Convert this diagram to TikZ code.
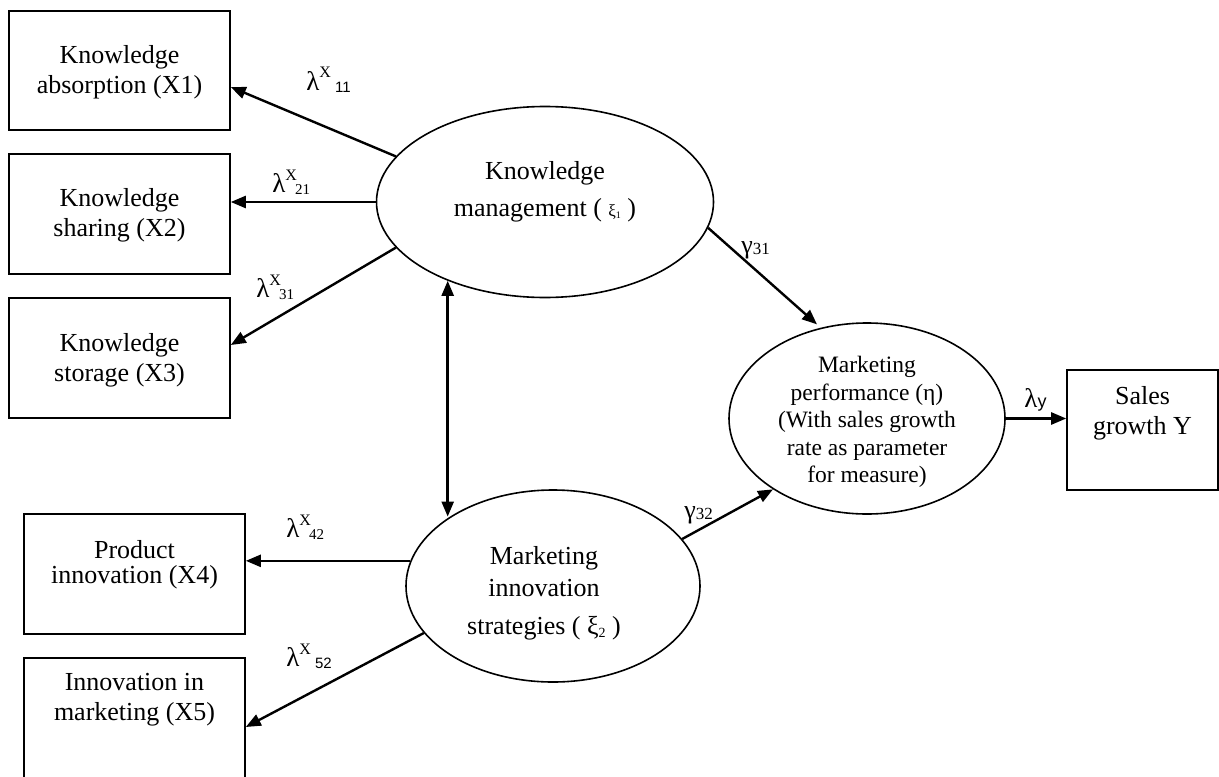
\documentclass[tikz,border=0pt]{standalone}
\usepackage{fontspec}
\setmainfont{Liberation Serif}
\setsansfont{Liberation Sans}
\usetikzlibrary{shapes.geometric,arrows.meta,calc}
\newcommand{\lamx}[3]{{\fontsize{13.5}{15}\selectfont λ}\raisebox{6pt}{\fontsize{8}{9}\selectfont X}\hspace{#3}\raisebox{-1pt}{\fontsize{7.5}{9}\selectfont #2#1}}
\begin{document}
\begin{tikzpicture}[x=0.5pt,y=-0.5pt,
  box/.style={draw,line width=0.8pt,inner sep=0pt,minimum width=110.5pt,minimum height=60pt},
  ell/.style={draw,ellipse,line width=0.8pt,inner sep=0pt},
  txt/.style={align=center,font=\fontsize{13}{15}\selectfont,inner sep=0pt},
  arr/.style={line width=1.2pt,-{Triangle[length=7.5pt,width=6pt]}},
  darr/.style={line width=1.2pt,{Triangle[length=7.5pt,width=6pt]}-{Triangle[length=7.5pt,width=6pt]}},
  lbl/.style={anchor=base west,inner sep=0pt}]
\useasboundingbox (0,0) rectangle (1219,776);

% observed variables
\node[box,minimum height=59.5pt] (x1) at (119.5,70.5) {};
\node[txt] (x1t) at (119.5,72) {Knowledge\\absorption (X1)};
\node[box] (x2) at (119.5,214) {};
\node[txt] (x2t) at (119.5,215) {Knowledge\\sharing (X2)};
\node[box] (x3) at (119.5,358) {};
\node[txt] (x3t) at (119.5,360) {Knowledge\\storage (X3)};
\node[box] (x4) at (134.5,574) {};
\node[txt,font=\fontsize{13}{12.5}\selectfont] (x4t) at (134.5,564.5) {Product\\innovation (X4)};
\node[box] (x5) at (134.5,718) {};
\node[txt] (x5t) at (134.5,700) {Innovation in\\marketing (X5)};
\node[box,minimum width=75.5pt] (sy) at (1142.5,430) {};
\node[txt] (syt) at (1142.5,413) {Sales\\growth Y};

% latent variables
\node[ell,minimum width=168.5pt,minimum height=95.5pt] (km) at (545,202) {};
\node[txt,font=\fontsize{13}{18.5}\selectfont] (kmt) at (545,191.5) {Knowledge\\management ( {\fontsize{8.5}{10}\selectfont ξ\raisebox{-1pt}{\fontsize{5}{6}\selectfont 1}} )};
\node[ell,minimum width=147pt,minimum height=96pt] (mis) at (553,586) {};
\node[txt,font=\fontsize{13}{16}\selectfont] (mist) at (544,593) {Marketing\\innovation\\[3pt]strategies ( ξ\raisebox{-1.5pt}{\fontsize{7}{8}\selectfont 2} )};
\node[ell,minimum width=138pt,minimum height=95.5pt] (mp) at (867,418.5) {};
\node[txt,font=\fontsize{11.75}{13.75}\selectfont] (mpt) at (867,422) {Marketing\\performance (η)\\(With sales growth\\rate as parameter\\for measure)};

% connectors
\draw[arr] (km.163) -- ($(x1.east)+(0,16.5)$);
\draw[arr] (km.west) -- (km.west -| x2.east);
\draw[arr] (km.197.8) -- ($(x3.east)+(0,-13)$);
\draw[arr,shorten >=2.5pt] (km.351.5) -- (mp.117.6);
\draw[darr] (km.219.75) -- (km.219.75 |- mis.146.4);
\draw[arr] (mis.170.7) -- (mis.170.7 -| x4.east);
\draw[arr] (mis.200.5) -- ($(x5.east)+(0,9)$);
\draw[arr] (mis.20.1) -- (mp.217.2);
\draw[arr] (mp.east) -- (mp.east -| sy.west);

% labels
\node[lbl] (l11) at (306,90) {\lamx{11}{\sffamily}{2pt}};
\node[lbl] (l21) at (272,192) {\lamx{21}{}{-1pt}};
\node[lbl] (l31) at (256,297) {\lamx{31}{}{-1pt}};
\node[lbl] (l42) at (286,537) {\lamx{42}{}{-1pt}};
\node[lbl] (l52) at (286,666) {\lamx{52}{\sffamily}{2pt}};
\node[lbl] (g31) at (741,253) {{\fontsize{13}{14}\selectfont γ}\raisebox{-0.5pt}{\fontsize{8.5}{10}\selectfont 31}};
\node[lbl] (g32) at (684,518) {{\fontsize{13}{14}\selectfont γ}\raisebox{-0.5pt}{\fontsize{8.5}{10}\selectfont 32}};
\node[lbl] (ly) at (1024,407) {{\fontsize{13.5}{15}\selectfont λ}{\fontsize{9}{10}\sffamily y}};
\end{tikzpicture}
\end{document}
